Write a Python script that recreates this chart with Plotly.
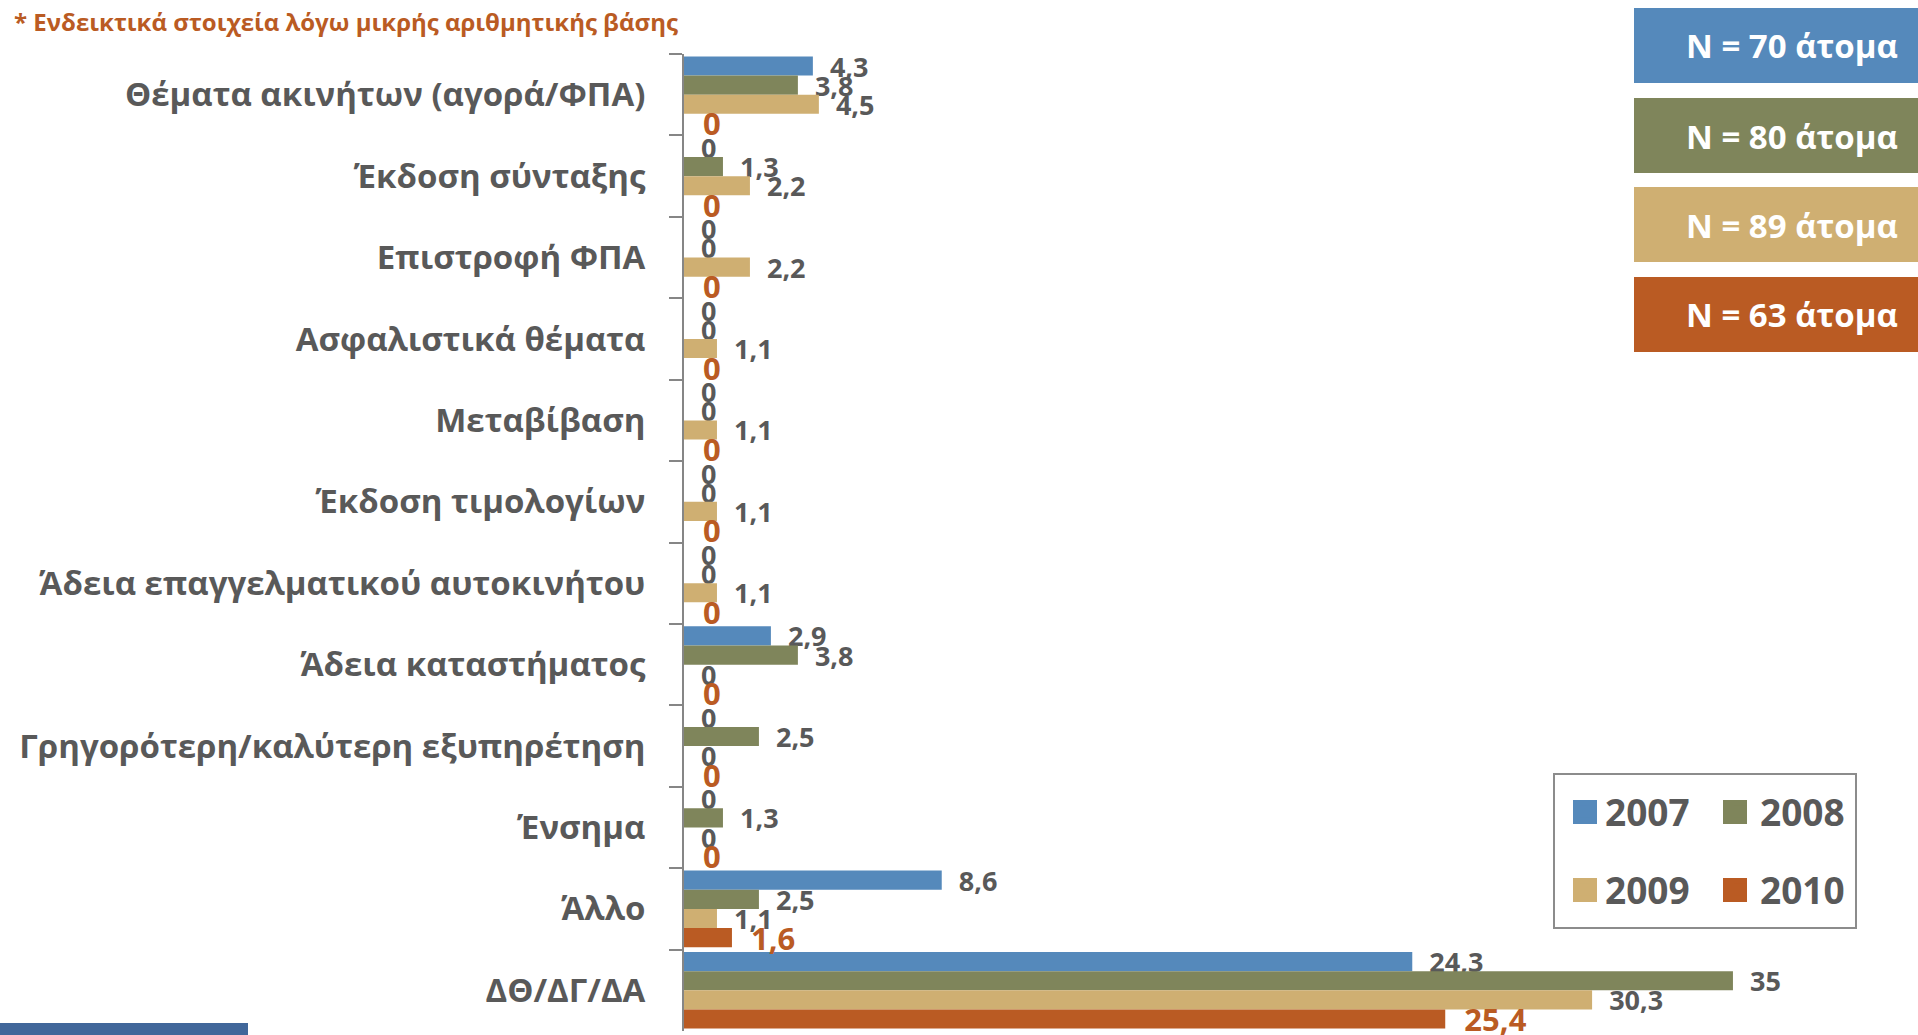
import plotly.graph_objects as go

categories = [
    "Θέματα ακινήτων (αγορά/ΦΠΑ)",
    "Έκδοση σύνταξης",
    "Επιστροφή ΦΠΑ",
    "Ασφαλιστικά θέματα",
    "Μεταβίβαση",
    "Έκδοση τιμολογίων",
    "Άδεια επαγγελματικού αυτοκινήτου",
    "Άδεια καταστήματος",
    "Γρηγορότερη/καλύτερη εξυπηρέτηση",
    "Ένσημα",
    "Άλλο",
    "ΔΘ/ΔΓ/ΔΑ",
]
v2007 = [4.3, 0, 0, 0, 0, 0, 0, 2.9, 0, 0, 8.6, 24.3]
v2008 = [3.8, 1.3, 0, 0, 0, 0, 0, 3.8, 2.5, 1.3, 2.5, 35]
v2009 = [4.5, 2.2, 2.2, 1.1, 1.1, 1.1, 1.1, 0, 0, 0, 1.1, 30.3]
v2010 = [0, 0, 0, 0, 0, 0, 0, 0, 0, 0, 1.6, 25.4]
years = ["2007", "2008", "2009", "2010"]
sample_notes = ["N = 70 άτομα", "N = 80 άτομα", "N = 89 άτομα", "N = 63 άτομα"]
footnote = "* Ενδεικτικά στοιχεία λόγω μικρής αριθμητικής βάσης"

colors = ["#5589BB", "#7F855B", "#CFAF72", "#BA5B23"]
GRAY = "#595959"
FONT = "Open Sans"

W, H = 1918, 1035
L, R, T, B = 684, 1760, 54, 1031


def px_x(p):
    return (p - L) / (R - L)


def px_y(p):
    return (B - p) / (B - T)


fig = go.Figure()
series = [v2007, v2008, v2009, v2010]
for i, (yr, vals) in enumerate(zip(years, series)):
    is_last = i == 3
    fig.add_trace(go.Bar(
        y=categories, x=vals, name=yr, orientation="h",
        marker=dict(color=colors[i], line=dict(width=0)),
        texttemplate="\u00a0\u00a0%{x}",
        textposition="outside",
        constraintext="none",
        cliponaxis=False,
        textangle=0,
        textfont=dict(family=FONT, size=31 if is_last else 27,
                      color=colors[3] if is_last else GRAY, weight="bold"),
        legend="legend" if i < 2 else "legend2",
        hoverinfo="skip",
    ))

fig.update_layout(
    width=W, height=H,
    margin=dict(l=L, r=W - R, t=T, b=H - B, autoexpand=False),
    paper_bgcolor="white", plot_bgcolor="white",
    barmode="group", bargap=0.06, bargroupgap=0,
    separators=",.",
    font=dict(family=FONT, color=GRAY),
    xaxis=dict(range=[0, (R - L) / 29.97], showgrid=False, zeroline=False,
               showticklabels=False, showline=False, ticks=""),
    yaxis=dict(categoryorder="array", categoryarray=categories,
               autorange="reversed", showgrid=False, zeroline=False,
               showline=True, linecolor="#868686", linewidth=2,
               ticks="outside", tickson="boundaries", ticklen=13,
               tickcolor="#868686", tickwidth=2,
               ticklabelstandoff=30,
               tickfont=dict(family=FONT, size=33, color=GRAY, weight="bold")),
    legend=dict(orientation="h", x=px_x(1565), y=px_y(812),
                xanchor="left", yanchor="middle", entrywidth=110,
                font=dict(family=FONT, size=37, color=GRAY, weight="bold"),
                bgcolor="rgba(0,0,0,0)", traceorder="normal"),
    legend2=dict(orientation="h", x=px_x(1565), y=px_y(890),
                 xanchor="left", yanchor="middle", entrywidth=110,
                 font=dict(family=FONT, size=37, color=GRAY, weight="bold"),
                 bgcolor="rgba(0,0,0,0)", traceorder="normal"),
    showlegend=True,
)

shapes = []
# legend frame
shapes.append(dict(type="rect", xref="paper", yref="paper",
                   x0=px_x(1554), x1=px_x(1856), y0=px_y(928), y1=px_y(774),
                   line=dict(color="#8C8C8C", width=2), fillcolor="rgba(0,0,0,0)"))
# enlarged legend swatches (legend symbols are fixed at 12px)
sw_pos = [(1573, 800), (1723, 800), (1573, 878), (1723, 878)]
for i, (sx, sy) in enumerate(sw_pos):
    shapes.append(dict(type="rect", xref="paper", yref="paper",
                       x0=px_x(sx), x1=px_x(sx + 24), y0=px_y(sy + 24), y1=px_y(sy),
                       line=dict(width=0), fillcolor=colors[i]))
# sample size boxes
box_tops = [8, 98, 187, 277]
for i, top in enumerate(box_tops):
    shapes.append(dict(type="rect", xref="paper", yref="paper",
                       x0=px_x(1634), x1=px_x(1918), y0=px_y(top + 75), y1=px_y(top),
                       line=dict(width=0), fillcolor=colors[i], layer="below"))
# logo strip bottom-left
shapes.append(dict(type="rect", xref="paper", yref="paper",
                   x0=px_x(0), x1=px_x(248), y0=px_y(1035), y1=px_y(1023),
                   line=dict(width=0), fillcolor="#41679A"))
fig.update_layout(shapes=shapes)

annotations = []
for i, top in enumerate(box_tops):
    annotations.append(dict(text=sample_notes[i], xref="paper", yref="paper",
                            x=px_x(1792), y=px_y(top + 38), xanchor="center",
                            yanchor="middle", showarrow=False,
                            font=dict(family=FONT, size=33, color="white", weight="bold")))
annotations.append(dict(text=footnote, xref="paper", yref="paper",
                        x=px_x(12), y=px_y(21), xanchor="left", yanchor="middle",
                        showarrow=False,
                        font=dict(family=FONT, size=24, color="#BA5B23", weight="bold")))
fig.update_layout(annotations=annotations)

fig.write_html("out.html", config={"displayModeBar": False},
               post_script="document.body.style.margin='0';")
